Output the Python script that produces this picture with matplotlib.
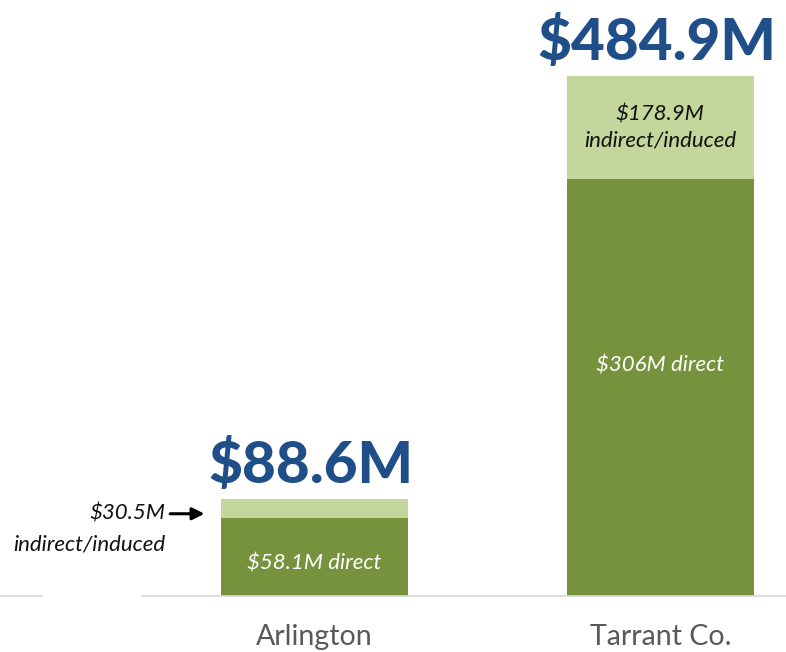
import matplotlib
matplotlib.use('Agg')
import matplotlib.pyplot as plt

## Data (bar segments, labels as printed)
## ================================================================ ##
places         = ['Arlington', 'Tarrant Co.']
direct_drawn   = [72.7, 388.8]
indirect_drawn = [17.7, 96.1]
total_labels   = ['$88.6M', '$484.9M']
direct_labels  = ['$58.1M direct', '$306M direct']
indirect_labels = ['$30.5M\nindirect/induced', '$178.9M\nindirect/induced']

DARK           = '#76923c'
LIGHT          = '#c3d69b'
BLUE           = '#1f4e89'

plt.rcParams['font.family'] = ['Lato', 'DejaVu Sans']

fig            = plt.figure(figsize=(7.86, 6.52), dpi=100)
ax             = fig.add_axes([0, 56/652, 1, 540/652])
xpos           = [0, 1]
ax.bar(xpos, direct_drawn, width=0.54, color=DARK)
ax.bar(xpos, indirect_drawn, width=0.54, bottom=direct_drawn, color=LIGHT)
ax.set_xlim(-0.909, 1.363)
ax.set_ylim(0, 503.6)
ax.axis('off')

## baseline with a gap behind the side label
ax.plot([-0.909, -0.788], [0, 0], color='#d9d9d9', lw=1.2, clip_on=False)
ax.plot([-0.499, 1.363], [0, 0], color='#d9d9d9', lw=1.2, clip_on=False)

## totals above the bars
for x, d, i, lab in zip(xpos, direct_drawn, indirect_drawn, total_labels):
    ax.text(x - 0.01, d + i + 6, lab, ha='center', va='bottom', fontsize=42,
            fontweight='black', color=BLUE)

## direct labels
ax.text(0, 30, direct_labels[0], ha='center', va='center',
        fontsize=16, style='italic', color='white')
ax.text(1, 215, direct_labels[1], ha='center', va='center',
        fontsize=16, style='italic', color='white')

## Tarrant indirect label inside the bar
ax.text(1, direct_drawn[1] + indirect_drawn[1] / 2, indirect_labels[1], ha='center',
        va='center', fontsize=16, style='italic', color='#111111', linespacing=1.4)

## Arlington indirect label to the side with an arrow
ax.annotate('', xy=(-0.31, direct_drawn[0] + 4), xytext=(-0.425, direct_drawn[0] + 4),
            arrowprops=dict(arrowstyle='-|>', color='black', lw=2.2, mutation_scale=18))
ax.text(-0.43, direct_drawn[0] + 4, indirect_labels[0].split('\n')[0], ha='right',
        va='center', fontsize=16, style='italic', color='#111111')
ax.text(-0.43, direct_drawn[0] - 25, indirect_labels[0].split('\n')[1], ha='right',
        va='center', fontsize=16, style='italic', color='#111111')

## category labels
for x, name in zip(xpos, places):
    ax.text(x, -38, name, ha='center', va='center', fontsize=20.5, color='#595959')

fig.savefig('out.png', dpi=100)
